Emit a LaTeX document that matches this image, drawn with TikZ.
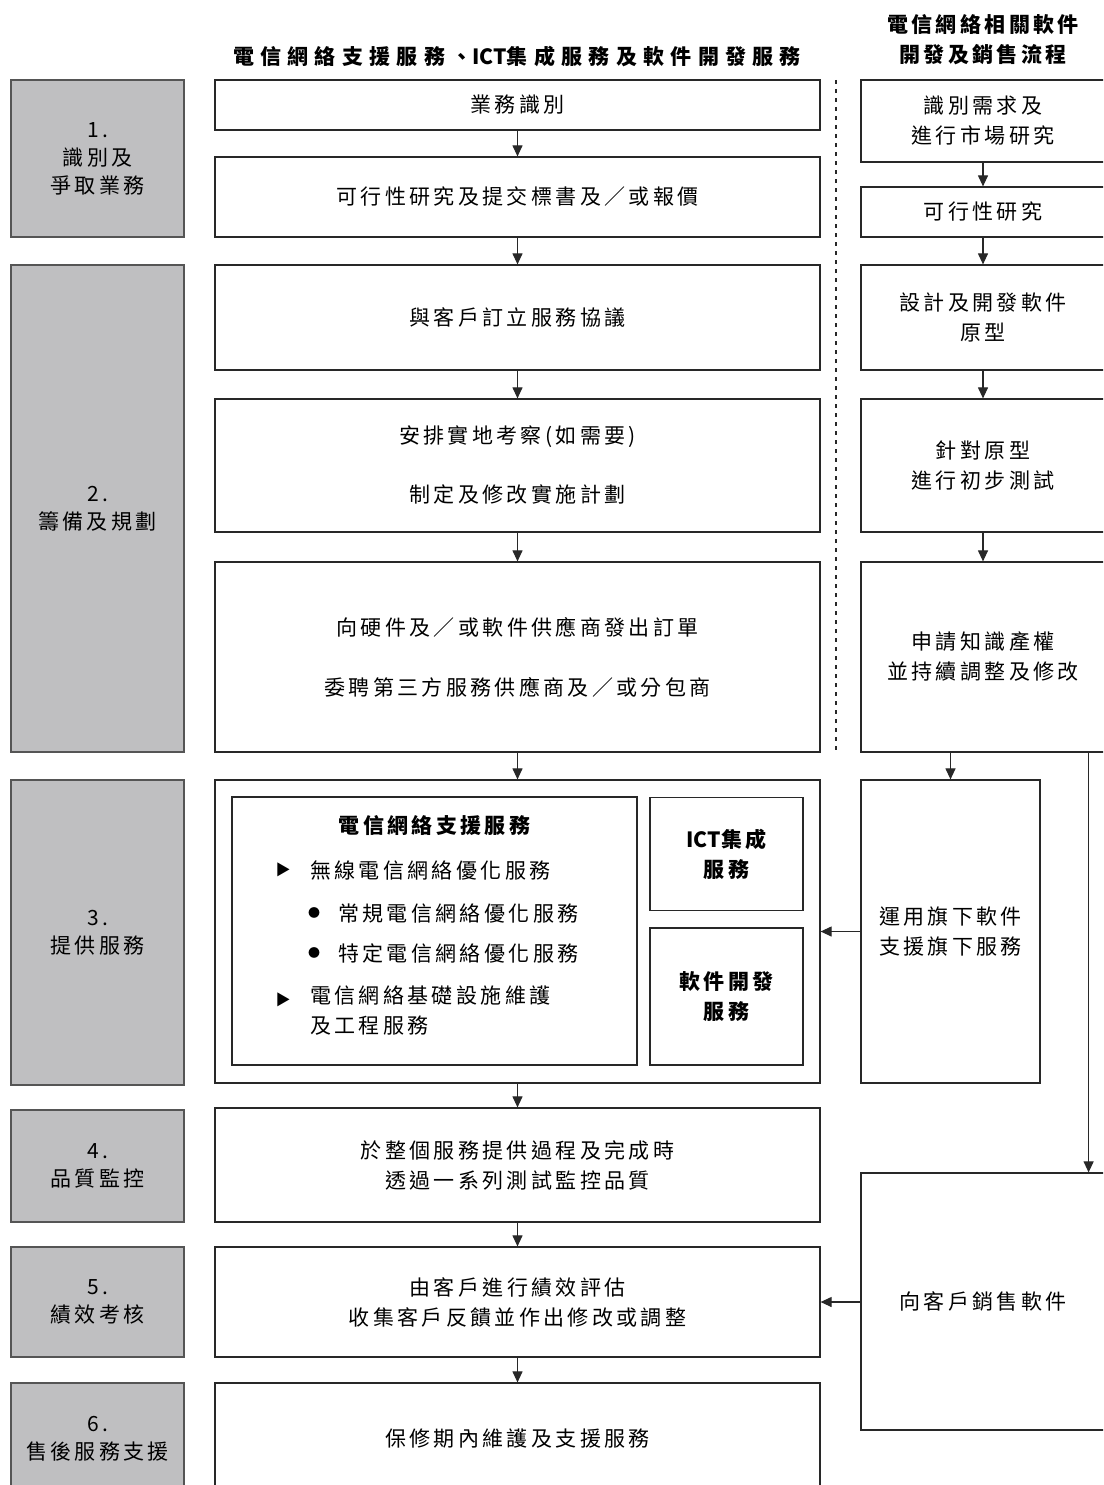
\documentclass[tikz,border=0pt]{standalone}
\usepackage{fontspec}
\setmainfont{Noto Sans CJK TC}[LetterSpace=16]
\usetikzlibrary{arrows.meta}
\definecolor{stagegray}{RGB}{191,191,193}
\definecolor{stageline}{RGB}{85,85,85}
\definecolor{boxline}{RGB}{40,40,40}
\newcommand{\tightlatin}[1]{{\addfontfeature{LetterSpace=0}#1}}
\tikzset{
  stagebox/.style={draw=stageline, fill=stagegray, line width=1.2pt, inner sep=0pt,
    minimum width=173pt, align=center, font=\fontsize{21}{28}\selectfont},
  procbox/.style={draw=boxline, line width=1.2pt, inner sep=0pt, align=center},
  midbox/.style={procbox, minimum width=605pt},
  sidebox/.style={procbox, minimum width=244pt},
  arr/.style={-{Triangle[length=11pt,width=10pt]}, line width=1.1pt, draw=boxline},
  headtext/.style={font=\fontsize{21}{30}\selectfont\bfseries, align=center},
}

\begin{document}
\begin{tikzpicture}[x=1pt, y=-1pt, font=\fontsize{21}{30}\selectfont]
\clip (0,0) rectangle (1103,1485);

% headers
\node[headtext] (headmain) at (517,57) {\addfontfeature{LetterSpace=30}電信網絡支援服務、\tightlatin{ICT}集成服務及軟件開發服務};
\node[headtext] (headside) at (983,40) {電信網絡相關軟件\\開發及銷售流程};

% stages on the left
\node[stagebox, minimum height=157pt] (s1) at (97.5,158.5) {1.\\識別及\\爭取業務};
\node[stagebox, minimum height=487pt] (s2) at (97.5,508.5) {2.\\籌備及規劃};
\node[stagebox, minimum height=305pt] (s3) at (97.5,932.5) {3.\\提供服務};
\node[stagebox, minimum height=112pt] (s4) at (97.5,1166) {4.\\品質監控};
\node[stagebox, minimum height=110pt] (s5) at (97.5,1302) {5.\\績效考核};
\node[stagebox, minimum height=112pt] (s6) at (97.5,1439) {6.\\售後服務支援};

% main flow
\node[midbox, minimum height=50pt] (m1) at (517.5,105) {業務識別};
\node[midbox, minimum height=80pt] (m2) at (517.5,197) {可行性研究及提交標書及／或報價};
\node[midbox, minimum height=105pt] (m3) at (517.5,317.5) {與客戶訂立服務協議};
\node[midbox, minimum height=133pt] (m4) at (517.5,465.5) {安排實地考察(如需要)\\[29pt]制定及修改實施計劃};
\node[midbox, minimum height=190pt] (m5) at (517.5,657) {向硬件及／或軟件供應商發出訂單\\[30pt]委聘第三方服務供應商及／或分包商};
\node[midbox, minimum height=303pt] (m6) at (517.5,931.5) {};
\node[midbox, minimum height=114pt] (m7) at (517.5,1165) {於整個服務提供過程及完成時\\透過一系列測試監控品質};
\node[midbox, minimum height=110pt] (m8) at (517.5,1302) {由客戶進行績效評估\\收集客戶反饋並作出修改或調整};
\node[midbox, minimum height=112pt] (m9) at (517.5,1439) {保修期內維護及支援服務};

% services inside stage 3
\node[procbox, minimum width=405pt, minimum height=268pt] (netsup) at (434.5,931) {};
\node[procbox, minimum width=153pt, minimum height=113pt, font=\fontsize{21}{30}\selectfont\bfseries] (ict) at (726.5,854) {\tightlatin{ICT}集成\\服務};
\node[procbox, minimum width=153pt, minimum height=137pt, font=\fontsize{21}{30}\selectfont\bfseries] (swdev) at (726.5,996.5) {軟件開發\\服務};
\node[font=\fontsize{21}{30}\selectfont\bfseries] (nettitle) at (434.5,825) {電信網絡支援服務};
\node (tri1) at (283,870) {\fontsize{15}{15}\selectfont ▶};
\node[anchor=west, inner sep=0pt] (wireless) at (310,870) {無線電信網絡優化服務};
\node (dot1) at (314,913) {\fontsize{12}{12}\selectfont ●};
\node[anchor=west, inner sep=0pt] (regular) at (338,913) {常規電信網絡優化服務};
\node (dot2) at (314,953) {\fontsize{12}{12}\selectfont ●};
\node[anchor=west, inner sep=0pt] (specific) at (338,953) {特定電信網絡優化服務};
\node (tri2) at (283,1000) {\fontsize{15}{15}\selectfont ▶};
\node[anchor=north west, inner sep=0pt, align=left] (infra) at (310,986) {電信網絡基礎設施維護\\及工程服務};

% software flow on the right
\node[sidebox, minimum height=82pt] (r1) at (983,121) {識別需求及\\進行市場研究};
\node[sidebox, minimum height=50pt] (r2) at (983,212) {可行性研究};
\node[sidebox, minimum height=105pt] (r3) at (983,317.5) {設計及開發軟件\\原型};
\node[sidebox, minimum height=133pt] (r4) at (983,465.5) {針對原型\\進行初步測試};
\node[sidebox, minimum height=190pt] (r5) at (983,657) {申請知識產權\\並持續調整及修改};
\node[procbox, minimum width=179pt, minimum height=303pt] (r6) at (950.5,931.5) {運用旗下軟件\\支援旗下服務};
\node[sidebox, minimum height=257pt] (r7) at (983,1301.5) {向客戶銷售軟件};

% divider
\draw[boxline, line width=2pt, dash pattern=on 4pt off 5pt] (836,80) -- (836,752);

% arrows
\foreach \a/\b in {m1/m2, m2/m3, m3/m4, m4/m5, m5/m6, m6/m7, m7/m8, m8/m9, r1/r2, r2/r3, r3/r4, r4/r5}
  \draw[arr] (\a.south) -- (\b.north);
\draw[arr] (r6.north |- r5.south) -- (r6.north);
\draw[arr] (r5.south east) ++(-17,0) coordinate (drop) -- (drop |- r7.north);
\draw[arr] (r6.west) -- (m6.east);
\draw[arr] (r7.west |- m8.east) -- (m8.east);
\end{tikzpicture}
\end{document}
